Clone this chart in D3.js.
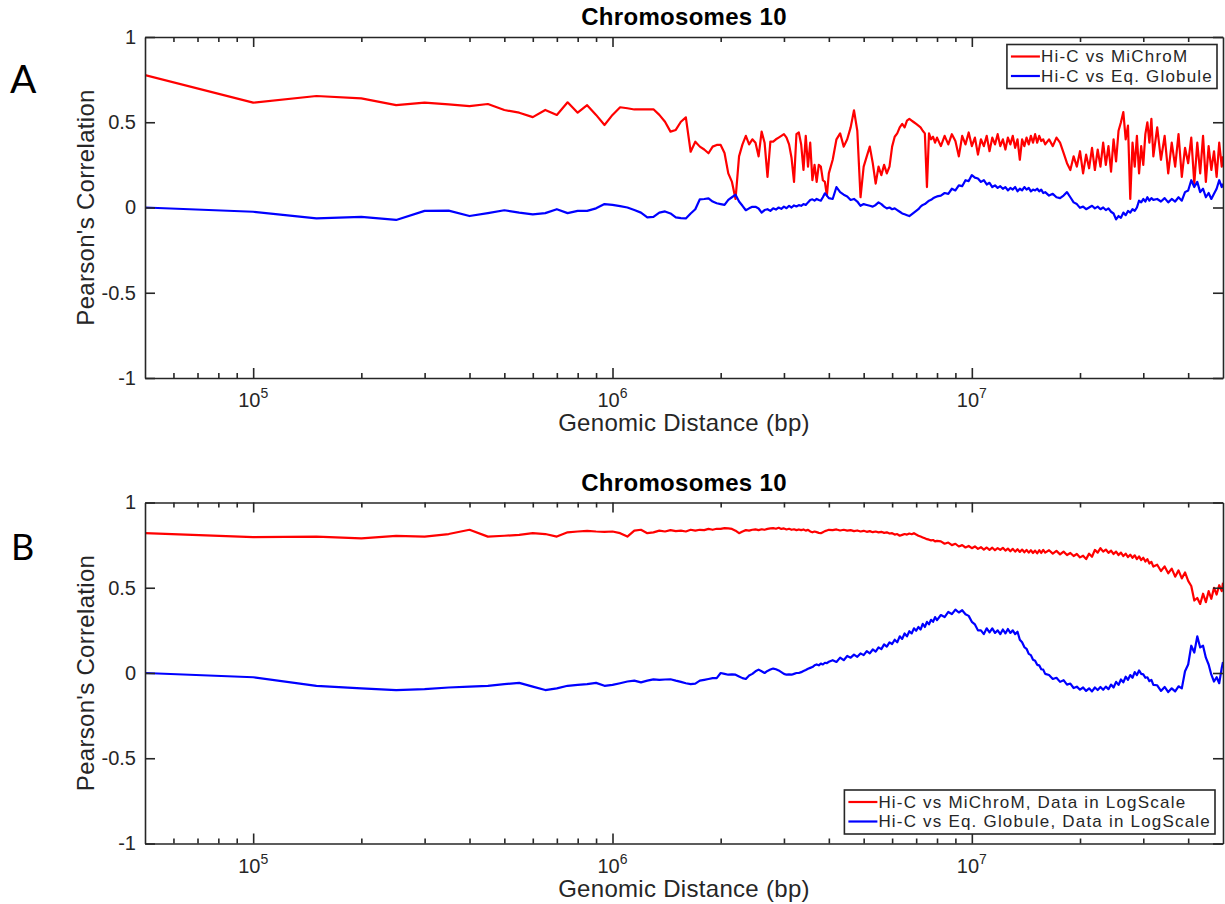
<!DOCTYPE html>
<html>
<head>
<meta charset="utf-8">
<script src="https://cdn.jsdelivr.net/npm/d3@7"></script>
<style>
  body { margin: 0; background: #fff; }
  svg { display: block; font-family: "Liberation Sans", Arial, Helvetica, sans-serif; }
</style>
</head>
<body>
<svg id="fig" width="1225" height="904"></svg>
<script>
// genomic distance of each sampled bin (kb), shared by every series
const distanceKb = [
  50, 100, 150, 200, 250, 300, 350, 400, 450, 500,
  550, 600, 650, 700, 750, 800, 850, 900, 950, 1000,
  1050, 1100, 1150, 1200, 1250, 1300, 1350, 1400, 1450, 1500,
  1550, 1600, 1650, 1700, 1750, 1800, 1850, 1900, 1950, 2000,
  2050, 2100, 2150, 2200, 2250, 2300, 2350, 2400, 2450, 2500,
  2550, 2600, 2650, 2700, 2750, 2800, 2850, 2900, 2950, 3000,
  3050, 3100, 3150, 3200, 3250, 3300, 3350, 3400, 3450, 3500,
  3550, 3600, 3650, 3700, 3750, 3800, 3850, 3900, 3950, 4000,
  4100, 4200, 4300, 4400, 4500, 4600, 4700, 4800, 4900, 5000,
  5100, 5200, 5300, 5400, 5500, 5600, 5700, 5800, 5900, 6000,
  6100, 6200, 6300, 6400, 6500, 6600, 6700, 6800, 6900, 7000,
  7100, 7200, 7300, 7400, 7500, 7600, 7700, 7800, 7900, 8000,
  8200, 8400, 8600, 8800, 9000, 9200, 9400, 9600, 9800, 10000,
  10200, 10400, 10600, 10800, 11000, 11200, 11400, 11600, 11800, 12000,
  12200, 12400, 12600, 12800, 13000, 13200, 13400, 13600, 13800, 14000,
  14200, 14400, 14600, 14800, 15000, 15200, 15400, 15600, 15800, 16000,
  16400, 16800, 17200, 17600, 18000, 18400, 18800, 19200, 19600, 20000,
  20400, 20800, 21200, 21600, 22000, 22400, 22800, 23200, 23600, 24000,
  24400, 24800, 25200, 25600, 26000, 26400, 26800, 27200, 27600, 28000,
  28400, 28800, 29200, 29600, 30000, 30400, 30800, 31200, 31600, 32000,
  32800, 33600, 34400, 35200, 36000, 36800, 37600, 38400, 39200, 40000,
  40800, 41600, 42400, 43200, 44000, 44800, 45600, 46400, 47200, 48000,
  48800, 49600, 50000
]

// panel A: Hi-C vs MiChroM
const michromA = [
  .777, .615, .654, .64, .60, .615, .605, .595, .607, .572,
  .556, .53, .572, .543, .617, .556, .60, .543, .484, .543,
  .588, .582, .575, .575, .576, .576, .543, .503, .445, .455,
  .503, .529, .327, .386, .357, .34, .318, .357, .367, .367,
  .32, .20, .15, .05, .30, .37, .42, .37, .40, .38,
  .30, .445, .38, .18, .386, .386, .40, .41, .42, .43,
  .41, .37, .29, .15, .43, .44, .37, .22, .42, .24,
  .38, .16, .25, .15, .25, .24, .16, .15, .07, .20,
  .28, .40, .435, .357, .40, .47, .57, .45, .06, .24,
  .30, .357, .26, .14, .24, .19, .25, .20, .24, .357,
  .415, .435, .47, .49, .47, .51, .52, .51, .50, .49,
  .48, .47, .45, .435, .12, .435, .40, .415, .38, .41,
  .36, .42, .37, .43, .39, .30, .42, .37, .44, .36,
  .41, .31, .40, .36, .42, .33, .41, .37, .43, .36,
  .40, .34, .41, .37, .42, .35, .40, .28, .40, .36,
  .41, .37, .42, .38, .43, .38, .42, .39, .40, .37,
  .40, .36, .41, .38, .32, .26, .22, .30, .24, .33,
  .20, .31, .23, .35, .22, .34, .24, .38, .25, .36,
  .21, .40, .27, .45, .50, .56, .40, .48, .05, .38,
  .24, .42, .20, .36, .25, .43, .50, .38, .52, .30,
  .47, .28, .42, .20, .38, .24, .43, .18, .35, .26,
  .41, .14, .38, .20, .42, .15, .36, .22, .33, .18,
  .38, .24, .30
]

// panel A: Hi-C vs Eq. Globule
const globuleA = [
  0, -.025, -.064, -.055, -.073, -.02, -.018, -.05, -.033, -.016,
  -.03, -.04, -.033, -.01, -.033, -.02, -.02, -.005, .02, .015,
  .008, 0, -.015, -.03, -.058, -.055, -.03, -.023, -.035, -.058,
  -.062, -.064, -.035, -.01, .048, .05, .054, .035, .025, .02,
  .015, .045, .06, .075, .035, .01, -.016, -.005, .004, .004,
  -.006, -.03, -.015, -.01, -.02, -.005, -.012, 0, -.008, .005,
  -.004, .01, 0, .012, .006, .014, .01, .02, .015, .03,
  .044, .048, .04, .05, .044, .04, .06, .083, .07, .055,
  .05, .12, .09, .075, .065, .044, .05, .035, .01, .02,
  .015, .01, .005, .015, .03, .02, .005, -.005, 0, -.01,
  -.005, -.015, -.025, -.035, -.04, -.045, -.05, -.04, -.03, -.02,
  -.01, .005, .015, .02, .03, .04, .045, .054, .06, .065,
  .07, .085, .08, .11, .10, .13, .125, .16, .155, .19,
  .175, .17, .15, .16, .135, .145, .12, .13, .115, .125,
  .11, .12, .10, .115, .105, .12, .095, .11, .10, .12,
  .105, .115, .095, .105, .10, .11, .095, .105, .085, .09,
  .07, .08, .06, .055, .07, .09, .06, .03, .02, -.002,
  .005, -.01, 0, .01, -.005, .005, -.01, 0, -.015, -.005,
  -.025, -.035, -.07, -.05, -.06, -.03, -.045, -.02, -.03, -.01,
  -.02, 0, .04, .03, .05, .035, .06, .04, .055, .045,
  .05, .035, .055, .03, .05, .035, .06, .04, .09, .10,
  .16, .12, .15, .09, .11, .06, .085, .05, .08, .11,
  .16, .12, .14
]

// panel B: Hi-C vs MiChroM, data in log scale
const michromLogB = [
  .82, .797, .80, .79, .804, .80, .815, .84, .80, .805,
  .81, .82, .815, .80, .825, .83, .834, .83, .828, .83,
  .82, .80, .835, .84, .82, .825, .835, .83, .838, .832,
  .835, .83, .84, .835, .84, .838, .845, .84, .846, .845,
  .85, .848, .845, .835, .82, .83, .838, .835, .84, .842,
  .838, .843, .84, .845, .848, .85, .846, .852, .845, .848,
  .842, .846, .84, .843, .838, .842, .838, .842, .835, .84,
  .83, .825, .83, .826, .822, .82, .826, .832, .836, .84,
  .838, .842, .836, .84, .835, .838, .832, .836, .83, .834,
  .828, .832, .826, .83, .825, .828, .822, .825, .818, .82,
  .812, .815, .805, .81, .815, .812, .818, .814, .82, .812,
  .805, .80, .795, .79, .785, .782, .778, .78, .772, .775,
  .772, .758, .765, .75, .758, .742, .75, .736, .745, .732,
  .742, .728, .738, .724, .736, .722, .735, .72, .732, .722,
  .734, .718, .73, .714, .728, .712, .726, .71, .724, .708,
  .722, .706, .72, .704, .718, .702, .72, .704, .722, .706,
  .72, .70, .716, .696, .712, .692, .704, .686, .698, .678,
  .688, .668, .70, .682, .722, .706, .732, .712, .724, .705,
  .718, .698, .712, .692, .706, .686, .70, .68, .694, .676,
  .69, .668, .684, .662, .676, .654, .668, .642, .652, .624,
  .635, .598, .625, .585, .612, .565, .602, .555, .59, .54,
  .51, .425, .44, .405, .465, .415, .48, .435, .50, .46,
  .515, .48, .53
]

// panel B: Hi-C vs Eq. Globule, data in log scale
const globuleLogB = [
  0, -.025, -.076, -.09, -.1, -.095, -.085, -.08, -.075, -.065,
  -.058, -.08, -.1, -.09, -.075, -.07, -.065, -.058, -.075, -.07,
  -.06, -.05, -.045, -.055, -.045, -.037, -.04, -.038, -.037, -.045,
  -.052, -.06, -.065, -.062, -.045, -.04, -.035, -.03, -.03, 0,
  -.005, -.01, -.008, -.01, -.02, -.03, -.035, -.015, -.005, .01,
  .02, .01, 0, .012, .02, .026, .022, .015, .005, -.005,
  -.01, -.008, -.01, -.005, 0, 0, .005, .012, .018, .025,
  .03, .035, .045, .05, .045, .055, .05, .06, .058, .066,
  .075, .065, .09, .075, .10, .09, .108, .095, .115, .105,
  .128, .115, .138, .125, .15, .14, .168, .155, .18, .17,
  .195, .18, .215, .20, .232, .215, .245, .232, .262, .248,
  .27, .255, .288, .27, .30, .285, .312, .30, .328, .31,
  .34, .328, .358, .345, .372, .355, .368, .345, .335, .30,
  .285, .25, .25, .228, .262, .238, .262, .235, .25, .228,
  .255, .232, .258, .235, .25, .228, .242, .195, .18, .152,
  .142, .112, .105, .078, .072, .048, .045, .022, .02, -.005,
  -.012, -.035, -.028, -.052, -.042, -.068, -.062, -.088, -.08, -.098,
  -.085, -.105, -.09, -.108, -.085, -.10, -.082, -.098, -.08, -.095,
  -.068, -.085, -.052, -.07, -.038, -.055, -.022, -.04, -.012, -.028,
  .005, -.012, .015, -.005, -.008, -.028, -.025, -.048, -.04, -.07,
  -.072, -.105, -.082, -.112, -.09, -.108, -.078, -.09, .01, .05,
  .16, .12, .215, .15, .16, .09, .05, -.01, -.05, -.025,
  -.06, .03, .065
]

const yTicks = [-1, -0.5, 0, 0.5, 1]
const xMajor = [1e5, 1e6, 1e7]
const xMinor = [6e4, 7e4, 8e4, 9e4,
  2e5, 3e5, 4e5, 5e5, 6e5, 7e5, 8e5, 9e5,
  2e6, 3e6, 4e6, 5e6, 6e6, 7e6, 8e6, 9e6,
  2e7, 3e7, 4e7]
const legendA = ["Hi-C vs MiChroM", "Hi-C vs Eq. Globule"]
const legendB = ["Hi-C vs MiChroM, Data in LogScale", "Hi-C vs Eq. Globule, Data in LogScale"]
const plotTitle = "Chromosomes 10"
const xTitle = "Genomic Distance (bp)"
const yTitle = "Pearson's Correlation"

const ink = "#262626"
const svg = d3.select("#fig")
svg.append("rect").attr("width", 1225).attr("height", 904).attr("fill", "#fff")

const x = d3.scaleLog().domain([5e4, 5e7]).range([145, 1223])

const panels = [
  { id: "A", top: 37, bottom: 378, series: [michromA, globuleA], names: legendA,
    letterX: 10, letterY: 93, letterSize: 39, legendAt: "top" },
  { id: "B", top: 502.5, bottom: 843.5, series: [michromLogB, globuleLogB], names: legendB,
    letterX: 11, letterY: 560, letterSize: 36, legendAt: "bottom" }
]
const colors = ["#ff0000", "#0000ff"]

const styleAxis = (g) => {
  g.selectAll("path, line").attr("stroke", ink).attr("stroke-width", 1.6)
  g.selectAll("text").attr("font-size", 20).attr("fill", ink)
    .attr("font-family", "'Liberation Sans', Arial, sans-serif")
}

panels.forEach((p) => {
  const g = svg.append("g").attr("id", `panel${p.id}`)
  const y = d3.scaleLinear().domain([-1, 1]).range([p.bottom, p.top])
  const [x0, x1] = x.range()

  g.append("clipPath").attr("id", `clip${p.id}`)
    .append("rect").attr("x", x0).attr("y", p.top)
    .attr("width", x1 - x0).attr("height", p.bottom - p.top)

  const line = d3.line().x(d => x(d.dist)).y(d => y(d.r))
  p.series.forEach((s, i) => {
    const pts = distanceKb.map((d, k) => ({ dist: d * 1000, r: s[k] }))
    g.append("path")
      .datum(pts)
      .attr("clip-path", `url(#clip${p.id})`)
      .attr("fill", "none")
      .attr("stroke", colors[i])
      .attr("stroke-width", 2.2)
      .attr("stroke-linejoin", "round")
      .attr("d", line)
  })

  // frame + inward ticks
  g.append("g").attr("transform", `translate(0,${p.bottom})`)
    .call(d3.axisBottom(x).tickValues(xMajor).tickSize(-10).tickSizeOuter(0).tickFormat(""))
    .call(styleAxis)
  g.append("g").attr("transform", `translate(0,${p.bottom})`)
    .call(d3.axisBottom(x).tickValues(xMinor).tickSize(-5).tickSizeOuter(0).tickFormat(""))
    .call(styleAxis).call(a => a.select(".domain").remove())
  g.append("g").attr("transform", `translate(0,${p.top})`)
    .call(d3.axisTop(x).tickValues(xMajor).tickSize(-10).tickSizeOuter(0).tickFormat(""))
    .call(styleAxis)
  g.append("g").attr("transform", `translate(0,${p.top})`)
    .call(d3.axisTop(x).tickValues(xMinor).tickSize(-5).tickSizeOuter(0).tickFormat(""))
    .call(styleAxis).call(a => a.select(".domain").remove())
  g.append("g").attr("transform", `translate(${x0},0)`)
    .call(d3.axisLeft(y).tickValues(yTicks).tickSize(-10).tickSizeOuter(0).tickPadding(9)
      .tickFormat(d => String(d)))
    .call(styleAxis)
  g.append("g").attr("transform", `translate(${x1},0)`)
    .call(d3.axisRight(y).tickValues(yTicks).tickSize(-10).tickSizeOuter(0).tickFormat(""))
    .call(styleAxis)

  // x tick labels as powers of ten
  xMajor.forEach((v) => {
    const t = g.append("text")
      .attr("x", x(v)).attr("y", p.bottom + 29)
      .attr("text-anchor", "middle")
      .attr("font-size", 20).attr("fill", ink)
    t.append("tspan").text("10")
    t.append("tspan").attr("dy", -9).attr("font-size", 14).text(Math.round(Math.log10(v)))
  })

  const xm = (x0 + x1) / 2
  g.append("text")
    .attr("x", xm).attr("y", p.bottom + 53)
    .attr("text-anchor", "middle")
    .attr("font-size", 24).attr("letter-spacing", 0.3).attr("fill", ink)
    .text(xTitle)
  g.append("text")
    .attr("transform", `translate(94,${(p.top + p.bottom) / 2}) rotate(-90)`)
    .attr("text-anchor", "middle")
    .attr("font-size", 24).attr("letter-spacing", 0.3).attr("fill", ink)
    .text(yTitle)
  g.append("text")
    .attr("x", xm).attr("y", p.top - 12)
    .attr("text-anchor", "middle")
    .attr("font-size", 24).attr("font-weight", "bold").attr("letter-spacing", 0.3)
    .attr("fill", "#000")
    .text(plotTitle)

  g.append("text")
    .attr("x", p.letterX).attr("y", p.letterY)
    .attr("font-family", "Lato, 'Open Sans', sans-serif")
    .attr("font-size", p.letterSize).attr("fill", "#000")
    .text(p.id)

  // legend
  const boxH = 44
  const rowGap = 19.5
  const boxTop = p.legendAt === "top" ? p.top + 7.5 : p.bottom - 53.5
  const boxRight = p.legendAt === "top" ? x1 - 6 : x1 - 8
  const lg = g.append("g")
  const box = lg.append("rect")
    .attr("y", boxTop).attr("height", boxH)
    .attr("fill", "#fff").attr("stroke", ink).attr("stroke-width", 1.6)
  const texts = p.names.map((name, i) => lg.append("text")
    .attr("y", boxTop + 12 + i * rowGap + 5.5)
    .attr("font-size", 17).attr("letter-spacing", 1.2).attr("fill", ink)
    .text(name))
  const maxW = d3.max(texts, t => t.node().getComputedTextLength())
  const boxW = 34 + maxW + 4
  const bx = boxRight - boxW
  box.attr("x", bx).attr("width", boxW)
  texts.forEach((t, i) => {
    t.attr("x", bx + 34)
    lg.append("line")
      .attr("x1", bx + 4).attr("x2", bx + 33)
      .attr("y1", boxTop + 12 + i * rowGap).attr("y2", boxTop + 12 + i * rowGap)
      .attr("stroke", colors[i]).attr("stroke-width", 2.2)
  })
})
</script>
</body>
</html>
